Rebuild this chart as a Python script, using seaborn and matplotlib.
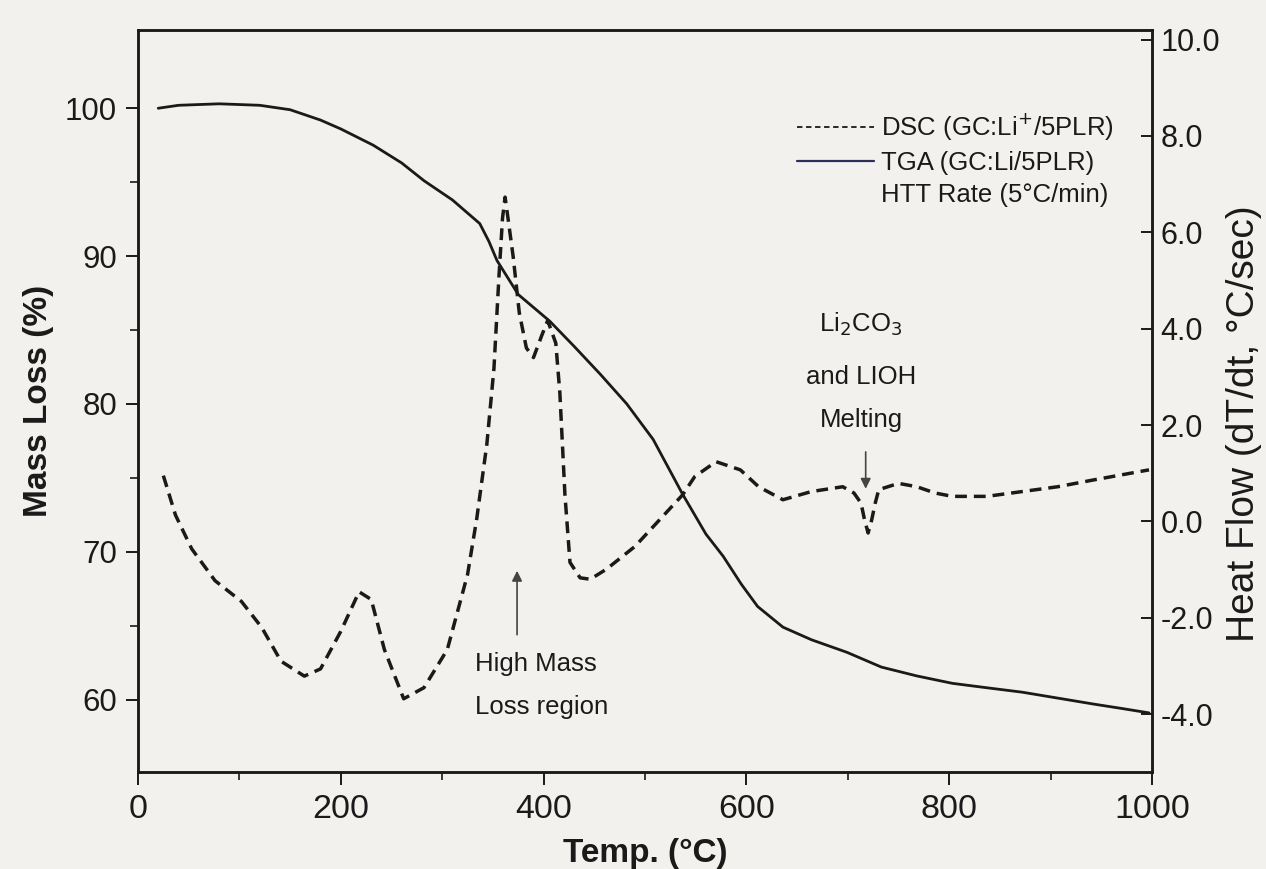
import numpy as np
import pandas as pd
import matplotlib
matplotlib.use("Agg")
import matplotlib.pyplot as plt
from matplotlib.lines import Line2D
from matplotlib.ticker import FixedLocator
import seaborn as sns

# ---------------- data ----------------
tga_temp = [20, 40, 80, 120, 150, 180, 200, 232, 260, 282, 310, 337, 346, 354,
            375, 406, 430, 456, 482, 508, 537, 560, 577, 595, 611, 636, 664, 699,
            733, 768, 803, 837, 872, 907, 942, 970, 997]
tga_mass = [100.0, 100.2, 100.3, 100.2, 99.9, 99.2, 98.6, 97.5, 96.3, 95.1, 93.8,
            92.2, 91.0, 89.7, 87.4, 85.6, 83.9, 82.0, 80.0, 77.6, 73.9, 71.2, 69.7,
            67.8, 66.3, 64.9, 64.05, 63.2, 62.2, 61.6, 61.1, 60.8, 60.5, 60.1, 59.7,
            59.4, 59.1]

dsc_temp = [25, 37, 53, 76, 102, 122, 141, 164, 180, 200, 218, 230, 243, 262, 282,
            305, 325, 334, 344, 351, 356, 359.5, 362, 364.5, 370, 376, 383, 390, 398,
            404, 412, 416, 421, 426, 436, 446, 462, 490, 537, 549, 570, 594, 612,
            636, 664, 695, 706, 713, 716.5, 720, 723.5, 727, 730.5, 750, 768, 786,
            803, 837, 872, 907, 942, 997]
dsc_flow = [0.95, 0.13, -0.57, -1.23, -1.66, -2.2, -2.9, -3.21, -3.06, -2.28, -1.46,
            -1.62, -2.66, -3.68, -3.45, -2.66, -1.1, 0.05, 1.6, 3.17, 5.1, 6.3, 6.73,
            6.35, 5.49, 4.33, 3.6, 3.4, 3.85, 4.17, 3.7, 2.67, 0.56, -0.85, -1.17,
            -1.2, -0.99, -0.52, 0.55, 0.93, 1.24, 1.07, 0.72, 0.45, 0.62, 0.72, 0.59,
            0.38, 0.03, -0.24, 0.03, 0.38, 0.66, 0.79, 0.72, 0.59, 0.52, 0.52, 0.62,
            0.72, 0.86, 1.07]

x_ticks = [0, 200, 400, 600, 800, 1000]
x_minor = [100, 300, 500, 700, 900]
left_ticks = [60, 70, 80, 90, 100]
left_minor = [65, 75, 85, 95]
right_ticks = [-4.0, -2.0, 0.0, 2.0, 4.0, 6.0, 8.0, 10.0]
legend_labels = ["DSC (GC:Li$^{+}$/5PLR)", "TGA (GC:Li/5PLR)", "HTT Rate (5°C/min)"]

tga_df = pd.DataFrame({"temp": tga_temp, "mass": tga_mass})
dsc_df = pd.DataFrame({"temp": dsc_temp, "flow": dsc_flow})

# ---------------- style ----------------
sns.set_style("ticks")
plt.rcParams["font.family"] = ["Liberation Sans", "DejaVu Sans"]
bg = "#f3f1ed"
ink = "#1a1a1a"

fig = plt.figure(figsize=(12.66, 8.69), dpi=100, facecolor=bg)
ax = fig.add_axes([0.109, 0.1116, 0.801, 0.854])
ax.set_facecolor(bg)
ax2 = ax.twinx()

sns.lineplot(data=tga_df, x="temp", y="mass", ax=ax, color=ink, lw=2.0,
             sort=False, legend=False)
sns.lineplot(data=dsc_df, x="temp", y="flow", ax=ax2, color=ink, lw=2.5,
             sort=False, legend=False)
ax2.lines[0].set_linestyle((0, (3.4, 2.0)))

ax.set_xlim(0, 1000)
ax.set_ylim(55.1, 105.3)
ax2.set_ylim(-5.2, 10.2)

ax.set_xticks(x_ticks)
ax.xaxis.set_minor_locator(FixedLocator(x_minor))
ax.set_yticks(left_ticks)
ax.yaxis.set_minor_locator(FixedLocator(left_minor))
ax2.set_yticks(right_ticks)
ax2.set_yticklabels([f"{v:.1f}" for v in right_ticks])

for a in (ax, ax2):
    for s in a.spines.values():
        s.set_visible(True)
        s.set_linewidth(1.8)
        s.set_color(ink)

ax.tick_params(axis="both", which="major", direction="out", length=9, width=1.4,
               colors=ink, pad=6)
ax.tick_params(axis="y", which="major", labelsize=22.5)
ax.tick_params(axis="x", which="major", labelsize=24.5, pad=7)
ax.tick_params(axis="both", which="minor", direction="out", length=6, width=1.2,
               colors=ink)
ax2.tick_params(axis="y", which="major", direction="in", length=8, width=1.4,
                colors=ink, labelsize=22, pad=6)

ax.set_xlabel("Temp. (°C)", fontsize=24, fontweight="bold", color=ink, labelpad=9)
ax.set_ylabel("Mass Loss (%)", fontsize=24, fontweight="bold", color=ink, labelpad=8)
ax2.set_ylabel("Heat Flow (dT/dt, °C/sec)", fontsize=28, color=ink)
ax2.yaxis.set_label_coords(1.073, 0.47)

# ---------------- annotations ----------------
ax.annotate("", xy=(373.8, 68.9), xytext=(373.8, 64.2),
            arrowprops=dict(arrowstyle="-|>", color="#444444", lw=1.2,
                            mutation_scale=15))
ax.text(332, 62.4, "High Mass", fontsize=18.5, color=ink, ha="left", va="center")
ax.text(332, 59.5, "Loss region", fontsize=18.5, color=ink, ha="left", va="center")

ax2.annotate("", xy=(717.6, 0.62), xytext=(717.6, 1.5),
             arrowprops=dict(arrowstyle="-|>", color="#444444", lw=1.2,
                             mutation_scale=15))
ax.text(713, 85.4, "Li$_2$CO$_3$", fontsize=18.5, color=ink, ha="center", va="center")
ax.text(713, 81.8, "and LIOH", fontsize=18.5, color=ink, ha="center", va="center")
ax.text(713, 78.9, "Melting", fontsize=18.5, color=ink, ha="center", va="center")

# ---------------- legend ----------------
handles = [Line2D([], [], color=ink, lw=1.3, linestyle=(0, (3, 2))),
           Line2D([], [], color="#2e2e5c", lw=1.6),
           Line2D([], [], color="none")]
leg = ax.legend(handles, legend_labels, loc="upper left",
                bbox_to_anchor=(0.650, 0.890), frameon=False, fontsize=18.5,
                handlelength=3.0, handletextpad=0.25, labelspacing=0.32,
                borderpad=0, borderaxespad=0)
for t in leg.get_texts():
    t.set_color(ink)

fig.savefig("out.png", dpi=100, facecolor=bg)
